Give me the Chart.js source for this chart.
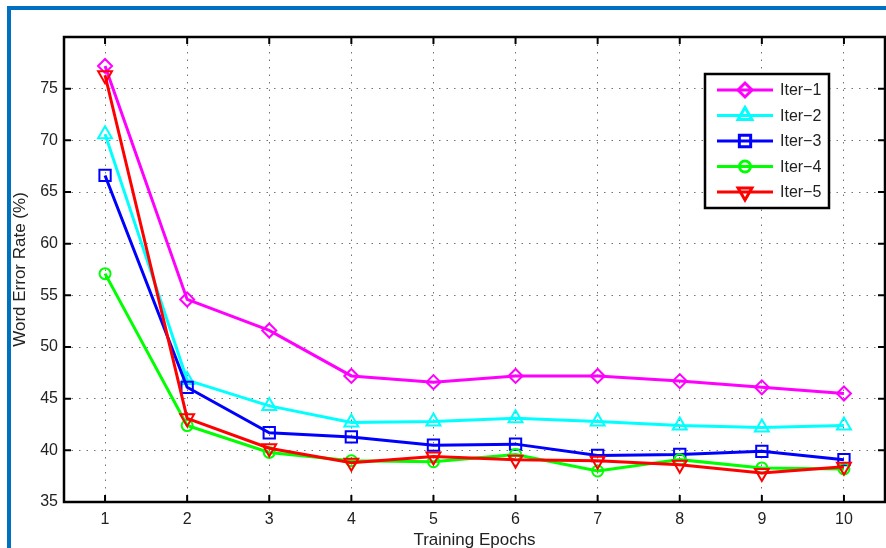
<!DOCTYPE html>
<html>
<head>
<meta charset="utf-8">
<script src="https://cdn.jsdelivr.net/npm/chart.js@4.4.1/dist/chart.umd.min.js"></script>
<style>
    html, body { margin: 0; padding: 0; background: #fff; overflow: hidden; }
    #chartWer { position: absolute; left: 0; top: 0; }
    #frame { position: absolute; left: 7px; top: 6px; width: 900px; height: 600px;
             border-left: 4px solid #0070c0; border-top: 4px solid #0070c0; pointer-events: none; }
</style>
</head>
<body>
<canvas id="chartWer" width="886" height="548"></canvas>
<div id="frame"></div>
<script>
// epochs on the x axis
var epochs = ['1', '2', '3', '4', '5', '6', '7', '8', '9', '10'];
var yTicks = [35, 40, 45, 50, 55, 60, 65, 70, 75];

// word error rate (%) per iteration
var iter1 = [77.2, 54.6, 51.6, 47.2, 46.6, 47.2, 47.2, 46.7, 46.1, 45.5];
var iter2 = [70.6, 46.8, 44.3, 42.7, 42.8, 43.1, 42.8, 42.4, 42.2, 42.4];
var iter3 = [66.6, 46.1, 41.7, 41.3, 40.5, 40.6, 39.5, 39.6, 39.9, 39.1];
var iter4 = [57.1, 42.4, 39.8, 39.0, 38.9, 39.6, 38.0, 39.1, 38.3, 38.2];
var iter5 = [76.3, 43.1, 40.2, 38.8, 39.4, 39.1, 39.0, 38.6, 37.8, 38.4];

var FONT = "'Liberation Sans', Arial, Helvetica, sans-serif";

var makeSet = function (label, data, color, style, radius, rotation, order) {
    return {
        label: label,
        data: data,
        borderColor: color,
        backgroundColor: color,
        borderWidth: 3,
        pointStyle: style,
        pointRadius: radius,
        pointRotation: rotation,
        pointBorderWidth: 2,
        pointBorderColor: color,
        pointBackgroundColor: 'rgba(0,0,0,0)',
        lineTension: 0,
        fill: false,
        order: order
    };
};

// box round the plot, inward tick marks and the legend inside the plot
var boxPlugin = {
    id: 'boxPlugin',
    afterDraw: function (chart) {
        var ctx = chart.ctx;
        var a = chart.chartArea;
        var xs = chart.scales.x, ys = chart.scales.y;
        ctx.save();
        ctx.strokeStyle = '#000';
        ctx.lineWidth = 2.5;
        ctx.strokeRect(a.left, a.top, a.right - a.left, a.bottom - a.top);
        ctx.lineWidth = 2;
        ctx.beginPath();
        for (var i = 0; i < epochs.length; i++) {
            var px = xs.getPixelForValue(i);
            ctx.moveTo(px, a.bottom); ctx.lineTo(px, a.bottom - 7);
            ctx.moveTo(px, a.top); ctx.lineTo(px, a.top + 7);
        }
        for (var j = 0; j < yTicks.length; j++) {
            var py = ys.getPixelForValue(yTicks[j]);
            ctx.moveTo(a.left, py); ctx.lineTo(a.left + 7, py);
            ctx.moveTo(a.right, py); ctx.lineTo(a.right - 7, py);
        }
        ctx.stroke();

        // legend
        var lx = 705, ly = 74, lw = 124, lh = 134;
        ctx.fillStyle = '#fff';
        ctx.fillRect(lx, ly, lw, lh);
        ctx.lineWidth = 2.5;
        ctx.strokeStyle = '#000';
        ctx.strokeRect(lx, ly, lw, lh);
        var sets = chart.data.datasets;
        ctx.font = '16px ' + FONT;
        ctx.textBaseline = 'middle';
        for (var k = 0; k < sets.length; k++) {
            var ds = sets[k];
            var ry = 90 + k * 25.5;
            ctx.strokeStyle = ds.borderColor;
            ctx.lineWidth = 3;
            ctx.beginPath();
            ctx.moveTo(717, ry); ctx.lineTo(773, ry);
            ctx.stroke();
            ctx.fillStyle = 'rgba(0,0,0,0)';
            Chart.helpers.drawPoint(ctx, {
                pointStyle: ds.pointStyle, rotation: ds.pointRotation,
                radius: ds.pointRadius, borderWidth: 2
            }, 745, ry);
            ctx.fillStyle = '#222';
            ctx.fillText(ds.label, 780, ry + 1);
        }
        ctx.restore();
    }
};

var ctx = document.getElementById('chartWer');
var myLineChart = new Chart(ctx, {
    type: 'line',
    data: {
        labels: epochs,
        datasets: [
            makeSet('Iter\u22121', iter1, '#ff00ff', 'rectRot', 7, 0, 5),
            makeSet('Iter\u22122', iter2, '#00ffff', 'triangle', 8, 0, 4),
            makeSet('Iter\u22123', iter3, '#0000ff', 'rect', 8, 0, 3),
            makeSet('Iter\u22124', iter4, '#00ff00', 'circle', 5.5, 0, 2),
            makeSet('Iter\u22125', iter5, '#ff0000', 'triangle', 8, 180, 1)
        ]
    },
    options: {
        responsive: false,
        animation: false,
        devicePixelRatio: 1,
        layout: { autoPadding: false, padding: { left: 0, top: 37, right: 1, bottom: 0 } },
        plugins: {
            legend: { display: false },
            tooltip: { enabled: false }
        },
        scales: {
            x: {
                type: 'category',
                offset: true,
                grid: { color: 'rgba(0,0,0,0.55)', lineWidth: 1, drawTicks: false, offset: false },
                border: { display: false, dash: [1.5, 6] },
                ticks: { color: '#222', font: { family: FONT, size: 16 }, padding: 8, maxRotation: 0, autoSkip: false },
                title: { display: true, text: 'Training Epochs', color: '#222', font: { family: FONT, size: 17 }, padding: { top: 0, bottom: -3 } },
                afterFit: function (s) { s.height = 46; s.paddingLeft = 0; s.paddingRight = 0; }
            },
            y: {
                min: 35,
                max: 80,
                grid: { color: 'rgba(0,0,0,0.55)', lineWidth: 1, drawTicks: false },
                border: { display: false, dash: [1.5, 6] },
                ticks: { color: '#222', font: { family: FONT, size: 16 }, padding: 6, stepSize: 5 },
                afterBuildTicks: function (s) {
                    s.ticks = yTicks.map(function (v) { return { value: v }; });
                },
                title: { display: true, text: 'Word Error Rate (%)', color: '#222', font: { family: FONT, size: 17 }, padding: { top: 10, bottom: 0 } },
                afterFit: function (s) { s.width = 64; s.paddingTop = 0; s.paddingBottom = 0; }
            }
        }
    },
    plugins: [boxPlugin]
});
</script>
</body>
</html>
